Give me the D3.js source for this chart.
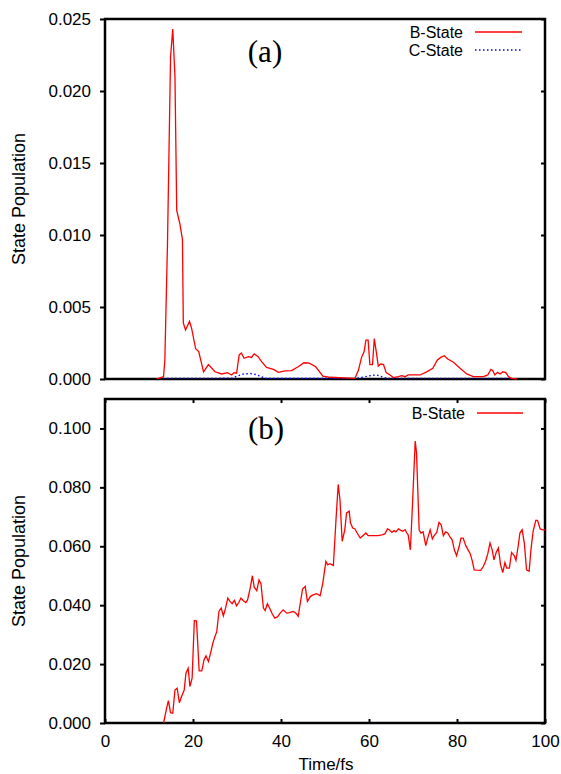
<!DOCTYPE html>
<html>
<head>
<meta charset="utf-8">
<script src="https://cdn.jsdelivr.net/npm/d3@7"></script>
<style>
  body { margin: 0; background: #fff; }
</style>
</head>
<body>
<div id="chart"></div>
<script>
// panel (a): [time fs, population]
const bStateA = [[11.7,0],[13.3,0.00016],[13.6,0.0013],[14.2,0.0094],[14.9,0.0224],[15.4,0.0243],[15.9,0.021],[16.3,0.0117],[17.0,0.0108],[17.6,0.0097],
  [17.8,0.0039],[18.3,0.0034],[19.2,0.0040],[19.7,0.0035],[20.6,0.0021],[21.3,0.0019],[22.4,0.0005],[23.5,0.001],[25.0,0.0005],[26.5,0.00035],
  [27.8,0.00044],[28.8,0.00028],[29.3,0.00044],[29.9,0.0004],[30.5,0.00167],[31.0,0.0018],[31.6,0.00144],[32.6,0.00155],[33.3,0.0015],[33.9,0.00174],
  [34.8,0.00155],[35.6,0.0012],[36.7,0.0008],[38.3,0.00067],[39.4,0.00046],[40.9,0.00056],[42.4,0.00058],[43.9,0.00085],[45.2,0.00113],[46.4,0.0011],
  [47.9,0.00085],[49.5,0.0002],[51.1,0.00012],[56.8,0.00005],[57.6,0.0006],[58.3,0.0015],[58.9,0.0019],[59.3,0.0027],[59.8,0.0027],[60.2,0.001],
  [60.8,0.001],[61.2,0.0028],[61.7,0.0018],[62.1,0.0009],[62.7,0.00104],[63.3,0.001],[63.9,0.00044],[64.8,0.00028],[65.5,0.0001],[66.7,0.00016],
  [67.4,0.00023],[68.2,0.00016],[68.9,0.00028],[71.6,0.00028],[73.1,0.0005],[74.5,0.00074],[75.5,0.0013],[76.3,0.0015],[77.1,0.00162],[77.9,0.00139],
  [79.2,0.00116],[80.7,0.00074],[82.2,0.00035],[83.7,0.00016],[86.0,0.00016],[87.0,0.00028],[87.7,0.00067],[88.1,0.0006],[88.6,0.00028],[89.2,0.00046],
  [89.8,0.00035],[90.4,0.0005],[91.1,0.00044],[91.7,0.00016],[92.4,0.00005],[93.6,0]];

const cStateA = [[13.2,0.00004],[20,0.00004],[28.8,0.00005],[30.0,0.0002],[31.5,0.00035],[33.0,0.00038],[34.5,0.0003],[35.5,0.00015],[36.7,0.00004],
  [57.0,0.00004],[59.0,0.00015],[60.5,0.00025],[61.7,0.00028],[63.0,0.00015],[64.0,0.00004],[92.0,0.00004]];

// panel (b)
const bStateB = [[13.3,0],[14.0,0.005],[14.4,0.0076],[14.9,0.0035],[15.4,0.0033],[15.9,0.0112],[16.4,0.0118],[16.9,0.0069],[17.4,0.009],[18.0,0.0112],
  [18.4,0.0169],[18.9,0.0186],[19.3,0.0124],[19.8,0.0152],[20.3,0.0348],[20.8,0.0346],[21.4,0.0177],[22.0,0.0177],[22.5,0.0214],[22.95,0.0228],
  [23.5,0.0209],[24.0,0.0237],[24.5,0.0271],[25.0,0.0294],[25.4,0.031],[25.9,0.0379],[26.4,0.039],[26.9,0.0364],[27.4,0.039],[27.9,0.0424],
  [28.4,0.0413],[28.9,0.0405],[29.4,0.0416],[29.9,0.0398],[30.4,0.0409],[30.9,0.0424],[31.4,0.0416],[32.0,0.0409],[32.4,0.0418],[33.0,0.0458],
  [33.5,0.05],[33.9,0.0461],[34.5,0.0449],[35.0,0.0486],[35.45,0.0473],[36.0,0.039],[36.4,0.0382],[36.9,0.0405],[37.5,0.0387],[38.0,0.0371],
  [38.6,0.0356],[39.2,0.036],[39.8,0.0373],[40.5,0.0384],[41.3,0.0373],[41.9,0.0375],[42.8,0.0379],[43.4,0.0373],[43.9,0.0362],[44.9,0.0455],
  [45.5,0.0464],[46.0,0.0413],[46.7,0.043],[47.3,0.0435],[48.1,0.0439],[48.9,0.0432],[49.5,0.0475],[50.2,0.0549],[50.6,0.0537],[51.1,0.0541],
  [51.9,0.0535],[52.5,0.069],[53.0,0.081],[53.4,0.0759],[53.9,0.0617],[54.5,0.0656],[54.9,0.0713],[55.5,0.0719],[55.8,0.0679],[56.3,0.0662],
  [56.8,0.0659],[57.3,0.0645],[58.0,0.0628],[58.6,0.0636],[59.3,0.0645],[59.8,0.0636],[61.0,0.0636],[62.1,0.0636],[62.9,0.0639],[63.6,0.0642],
  [64.2,0.0659],[64.6,0.0656],[65.2,0.0647],[65.7,0.0653],[66.1,0.0649],[66.7,0.0659],[67.2,0.0654],[67.7,0.0651],[68.2,0.0656],[68.6,0.0645],
  [68.9,0.0639],[69.4,0.0588],[69.9,0.0747],[70.5,0.0957],[70.8,0.0917],[71.4,0.0656],[71.8,0.0645],[72.3,0.0649],[72.9,0.0602],[73.3,0.0625],
  [73.9,0.0656],[74.4,0.0625],[74.8,0.0636],[75.4,0.0647],[75.9,0.0681],[76.4,0.0673],[76.9,0.0636],[77.4,0.0649],[77.9,0.0645],[78.4,0.0632],
  [78.9,0.0622],[79.4,0.0588],[79.9,0.0568],[80.5,0.06],[80.9,0.0628],[81.4,0.0628],[82.0,0.0602],[82.4,0.0591],[83.0,0.0575],[83.5,0.0549],
  [83.9,0.052],[84.5,0.0519],[85.4,0.0518],[86.0,0.0532],[86.5,0.0549],[87.0,0.0575],[87.5,0.0611],[88.0,0.0588],[88.4,0.0554],[88.9,0.0579],
  [89.4,0.0594],[89.9,0.0537],[90.4,0.0511],[90.9,0.0545],[91.3,0.0526],[91.9,0.0526],[92.4,0.0579],[93.0,0.0568],[93.4,0.0552],[93.9,0.06],
  [94.3,0.0645],[94.8,0.0656],[95.3,0.0611],[95.8,0.052],[96.4,0.0515],[96.8,0.0588],[97.3,0.0651],[97.9,0.0688],[98.3,0.0688],[98.9,0.0659],
  [99.5,0.0656],[100,0.0656]];

const xTicks = [0, 20, 40, 60, 80, 100];
const yTicksA = [0, 0.005, 0.010, 0.015, 0.020, 0.025];
const yTicksB = [0, 0.020, 0.040, 0.060, 0.080, 0.100];

const width = 561, height = 774;
const left = 105, right = 545;
const sans = "'Liberation Sans', Arial, sans-serif";
const serif = "'Liberation Serif', 'Times New Roman', serif";

let svg = d3.select("#chart").append("svg")
  .attr("width", width)
  .attr("height", height)
  .style("font-family", sans);

let x = d3.scaleLinear().domain([0, 100]).range([left, right]);
let yA = d3.scaleLinear().domain([0, 0.025]).range([379, 19]);
let yB = d3.scaleLinear().domain([0, 0.11]).range([723, 399]);

const fmt = d3.format(".3f");

function panel(y, yTicks, top, bottom, xTicksOn) {
  let g = svg.append("g");
  // left axis, ticks outward
  g.append("g")
    .attr("transform", "translate(" + left + ",0)")
    .call(d3.axisLeft(y).tickValues(yTicks).tickFormat(fmt).tickSize(5).tickPadding(9))
    .call(a => a.select(".domain").remove())
    .call(a => a.selectAll("line").attr("stroke-width", 2))
    .call(a => a.selectAll("text").attr("fill", "#000")
      .style("font-size", "17px").style("font-family", sans));
  // right mirror ticks, inward
  g.append("g")
    .attr("transform", "translate(" + right + ",0)")
    .call(d3.axisRight(y).tickValues(yTicks).tickFormat("").tickSize(-4))
    .call(a => a.select(".domain").remove())
    .call(a => a.selectAll("line").attr("stroke-width", 2));
  if (xTicksOn) {
    g.append("g")
      .attr("transform", "translate(0," + bottom + ")")
      .call(d3.axisBottom(x).tickValues(xTicks).tickSize(-4).tickPadding(12))
      .call(a => a.select(".domain").remove())
      .call(a => a.selectAll("line").attr("stroke-width", 2))
      .call(a => a.selectAll("text").attr("fill", "#000")
        .style("font-size", "17px").style("font-family", sans));
    g.append("g")
      .attr("transform", "translate(0," + top + ")")
      .call(d3.axisTop(x).tickValues(xTicks).tickFormat("").tickSize(-4))
      .call(a => a.select(".domain").remove())
      .call(a => a.selectAll("line").attr("stroke-width", 2));
  }
  // frame
  g.append("rect")
    .attr("x", left).attr("y", top)
    .attr("width", right - left).attr("height", bottom - top)
    .attr("fill", "none")
    .attr("stroke", "#000")
    .attr("stroke-width", 2.5);
  // y label
  g.append("text")
    .attr("transform", "translate(25," + ((top + bottom) / 2) + ") rotate(-90)")
    .attr("text-anchor", "middle")
    .style("font-size", "18px")
    .text("State Population");
}

panel(yA, yTicksA, 19, 379, false);
panel(yB, yTicksB, 399, 723, true);

let lineA = d3.line().x(d => x(d[0])).y(d => yA(d[1]));
let lineB = d3.line().x(d => x(d[0])).y(d => yB(d[1]));

svg.append("path")
  .datum(cStateA)
  .attr("d", lineA)
  .attr("fill", "none")
  .attr("stroke", "#0000ff")
  .attr("stroke-width", 1.4)
  .attr("stroke-dasharray", "1.5,2.5");

svg.append("path")
  .datum(bStateA)
  .attr("d", lineA)
  .attr("fill", "none")
  .attr("stroke", "#ff0000")
  .attr("stroke-width", 1.3);

svg.append("path")
  .datum(bStateB)
  .attr("d", lineB)
  .attr("fill", "none")
  .attr("stroke", "#ff0000")
  .attr("stroke-width", 1.3);

// panel letters
svg.append("text")
  .attr("x", 265).attr("y", 62)
  .attr("text-anchor", "middle")
  .style("font-family", serif)
  .style("font-size", "31px")
  .text("(a)");
svg.append("text")
  .attr("x", 266).attr("y", 439)
  .attr("text-anchor", "middle")
  .style("font-family", serif)
  .style("font-size", "31px")
  .text("(b)");

// legends
function legend(label, ty, lx1, lx2, tx, color, dash) {
  svg.append("text")
    .attr("x", tx).attr("y", ty)
    .attr("dy", "0.35em")
    .attr("text-anchor", "end")
    .style("font-size", "16px")
    .text(label);
  svg.append("line")
    .attr("x1", lx1).attr("x2", lx2)
    .attr("y1", ty).attr("y2", ty)
    .attr("stroke", color)
    .attr("stroke-width", 1.3)
    .attr("stroke-dasharray", dash);
}
legend("B-State", 32, 475, 522, 463, "#ff0000", null);
legend("C-State", 50, 475, 522, 463, "#0000ff", "1.5,2.5");
legend("B-State", 413, 477, 523, 465, "#ff0000", null);

// x label
svg.append("text")
  .attr("x", 326).attr("y", 770)
  .attr("text-anchor", "middle")
  .style("font-size", "17px")
  .text("Time/fs");
</script>
</body>
</html>
